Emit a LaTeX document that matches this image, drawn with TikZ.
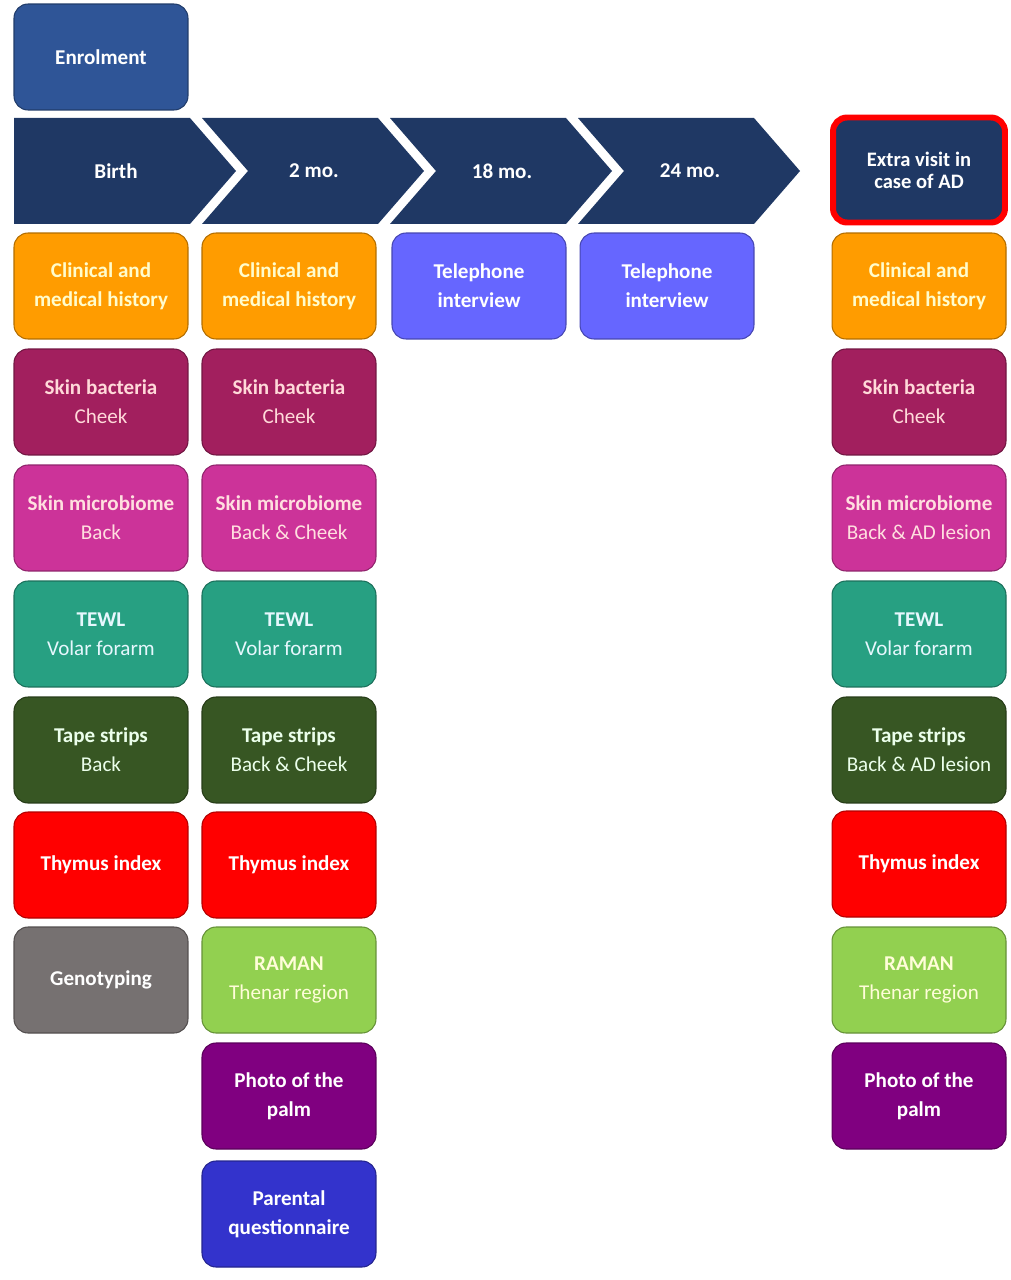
\documentclass[tikz,border=0pt]{standalone}
\usepackage{fontspec}
\setmainfont{Carlito}
\definecolor{navy}{HTML}{1F3864}
\definecolor{enrolblue}{HTML}{2F5597}
\definecolor{clinorange}{HTML}{FF9C00}
\definecolor{phoneblue}{HTML}{6666FF}
\definecolor{bactred}{HTML}{A21F5E}
\definecolor{micropink}{HTML}{CC3399}
\definecolor{tewlteal}{HTML}{27A082}
\definecolor{tapegreen}{HTML}{375623}
\definecolor{thymred}{HTML}{FF0000}
\definecolor{genogrey}{HTML}{767171}
\definecolor{ramangreen}{HTML}{92D050}
\definecolor{photopurple}{HTML}{800080}
\definecolor{parentblue}{HTML}{3333CC}
\tikzset{
  cell/.style={rounded corners=0.28cm,minimum width=3.48cm,minimum height=2.12cm,align=center,line width=0.6pt,font=\fontsize{12}{16.5}\selectfont},
  colored/.style 2 args={cell,fill=#1,draw=#1!70!black,text=#2},
  clin/.style={colored={clinorange}{yellow!20}},
  phone/.style={colored={phoneblue}{white}},
  bact/.style={colored={bactred}{pink!60}},
  micro/.style={colored={micropink}{pink!50}},
  tewl/.style={colored={tewlteal}{cyan!10}},
  tape/.style={colored={tapegreen}{green!8}},
  thym/.style={colored={thymred}{white}},
  geno/.style={colored={genogrey}{white}},
  raman/.style={colored={ramangreen}{yellow!15}},
  photo/.style={colored={photopurple}{white}},
  parent/.style={colored={parentblue}{white}},
  phase/.style={text=white,font=\fontsize{12}{14}\bfseries\selectfont}
}
\begin{document}
\begin{tikzpicture}[x=0.02cm,y=-0.02cm]
\useasboundingbox (0,0) rectangle (1010,1280);
\node[colored={enrolblue}{white}] (enrol) at (101,57) {\textbf{Enrolment}};

\fill[navy] (14,118) -- (190,118) -- (236,171) -- (190,224) -- (14,224) -- cycle;
\foreach \l in {202,390,578}
  \fill[navy] (\l,118) -- (\l+176,118) -- (\l+222,171) -- (\l+176,224) -- (\l,224) -- (\l+46,171) -- cycle;
\node[phase] (birth) at (116,171) {Birth};
\node[phase] (mo2) at (314,171) {2 mo.};
\node[phase] (mo18) at (502,171) {18 mo.};
\node[phase] (mo24) at (690,171) {24 mo.};
\node[cell,fill=navy,draw=red,line width=3.4pt,minimum width=3.44cm,minimum height=2.1cm,text=white,font=\fontsize{11.7}{12.6}\bfseries\selectfont] (extra) at (919,170) {Extra visit in\\case of AD};

\node[clin] (clin1) at (101,286) {\textbf{Clinical and}\\\textbf{medical history}};
\node[bact] (bact1) at (101,402) {\textbf{Skin bacteria}\\Cheek};
\node[micro] (micro1) at (101,518) {\textbf{Skin microbiome}\\Back};
\node[tewl] (tewl1) at (101,634) {\textbf{TEWL}\\Volar forarm};
\node[tape] (tape1) at (101,750) {\textbf{Tape strips}\\Back};
\node[thym] (thym1) at (101,865) {\textbf{Thymus index}};
\node[geno] (geno1) at (101,980) {\textbf{Genotyping}};

\node[clin] (clin2) at (289,286) {\textbf{Clinical and}\\\textbf{medical history}};
\node[bact] (bact2) at (289,402) {\textbf{Skin bacteria}\\Cheek};
\node[micro] (micro2) at (289,518) {\textbf{Skin microbiome}\\Back \& Cheek};
\node[tewl] (tewl2) at (289,634) {\textbf{TEWL}\\Volar forarm};
\node[tape] (tape2) at (289,750) {\textbf{Tape strips}\\Back \& Cheek};
\node[thym] (thym2) at (289,865) {\textbf{Thymus index}};
\node[raman] (raman2) at (289,980) {\textbf{RAMAN}\\Thenar region};
\node[photo] (photo2) at (289,1096) {\textbf{Photo of the}\\\textbf{palm}};
\node[parent] (parent2) at (289,1214) {\textbf{Parental}\\\textbf{questionnaire}};

\node[phone] (phone18) at (479,286) {\textbf{Telephone}\\\textbf{interview}};
\node[phone] (phone24) at (667,286) {\textbf{Telephone}\\\textbf{interview}};

\node[clin] (clinx) at (919,286) {\textbf{Clinical and}\\\textbf{medical history}};
\node[bact] (bactx) at (919,402) {\textbf{Skin bacteria}\\Cheek};
\node[micro] (microx) at (919,518) {\textbf{Skin microbiome}\\Back \& AD lesion};
\node[tewl] (tewlx) at (919,634) {\textbf{TEWL}\\Volar forarm};
\node[tape] (tapex) at (919,750) {\textbf{Tape strips}\\Back \& AD lesion};
\node[thym] (thymx) at (919,864) {\textbf{Thymus index}};
\node[raman] (ramanx) at (919,980) {\textbf{RAMAN}\\Thenar region};
\node[photo] (photox) at (919,1096) {\textbf{Photo of the}\\\textbf{palm}};
\end{tikzpicture}
\end{document}
